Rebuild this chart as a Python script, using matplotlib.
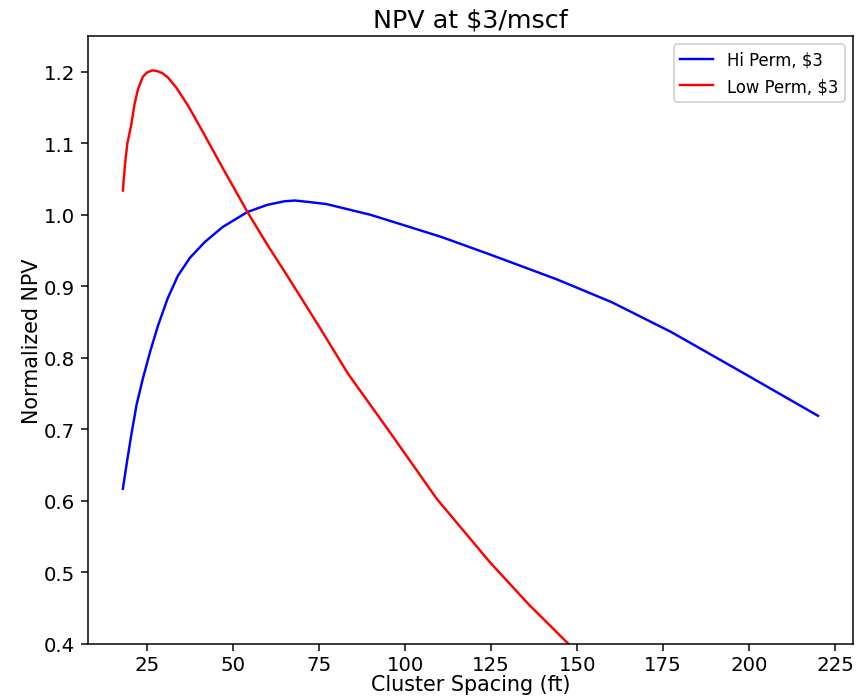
import matplotlib
matplotlib.use("Agg")
import matplotlib.pyplot as plt

# Values
hi_spacing = [18.0, 19.2, 20.4, 22.0, 23.8, 26.0, 28.2, 31.0, 34.0, 37.5, 41.8, 47.0,
              54.2, 60.0, 65.0, 68.0, 72.0, 77.2, 90.0, 100.0, 110.6, 125.0, 144.0,
              160.0, 177.4, 199.7, 220.0]
hi_npv = [0.617, 0.655, 0.691, 0.735, 0.771, 0.810, 0.845, 0.883, 0.915, 0.940, 0.962,
          0.983, 1.004, 1.014, 1.019, 1.020, 1.018, 1.015, 1.000, 0.985, 0.969, 0.944,
          0.910, 0.878, 0.836, 0.775, 0.719]

low_spacing = [18.0, 18.6, 19.3, 20.4, 21.4, 22.4, 23.8, 25.0, 26.5, 28.0, 29.5, 31.1,
               33.5, 36.9, 41.0, 46.6, 54.2, 60.0, 66.0, 75.0, 83.4, 95.6, 109.2,
               124.7, 136.0, 147.5, 155.0]
low_npv = [1.034, 1.070, 1.100, 1.125, 1.155, 1.176, 1.193, 1.199, 1.202, 1.201, 1.198,
           1.192, 1.178, 1.153, 1.118, 1.069, 1.004, 0.958, 0.913, 0.844, 0.778, 0.696,
           0.603, 0.514, 0.455, 0.400, 0.364]

fig = plt.figure(figsize=(6.4, 5.17), dpi=135)
ax = fig.add_axes([0.102, 0.076, 0.885, 0.871])

ax.plot(hi_spacing, hi_npv, color="blue", lw=1.3, label="Hi Perm, $3")
ax.plot(low_spacing, low_npv, color="red", lw=1.3, label="Low Perm, $3")

ax.set_xlim(7.9, 230.1)
ax.set_ylim(0.4, 1.25)
ax.set_xticks([25, 50, 75, 100, 125, 150, 175, 200, 225])
ax.tick_params(axis="both", labelsize=10.5)
ax.tick_params(axis="x", pad=2.5)
ax.set_xlabel("Cluster Spacing (ft)", fontsize=11, labelpad=0)
ax.set_ylabel("Normalized NPV", fontsize=11, labelpad=1)
ax.set_title("NPV at $3/mscf", fontsize=13.5, pad=5)
ax.legend(loc="upper right", fontsize=8.8)

fig.savefig("out.png", dpi=135)
